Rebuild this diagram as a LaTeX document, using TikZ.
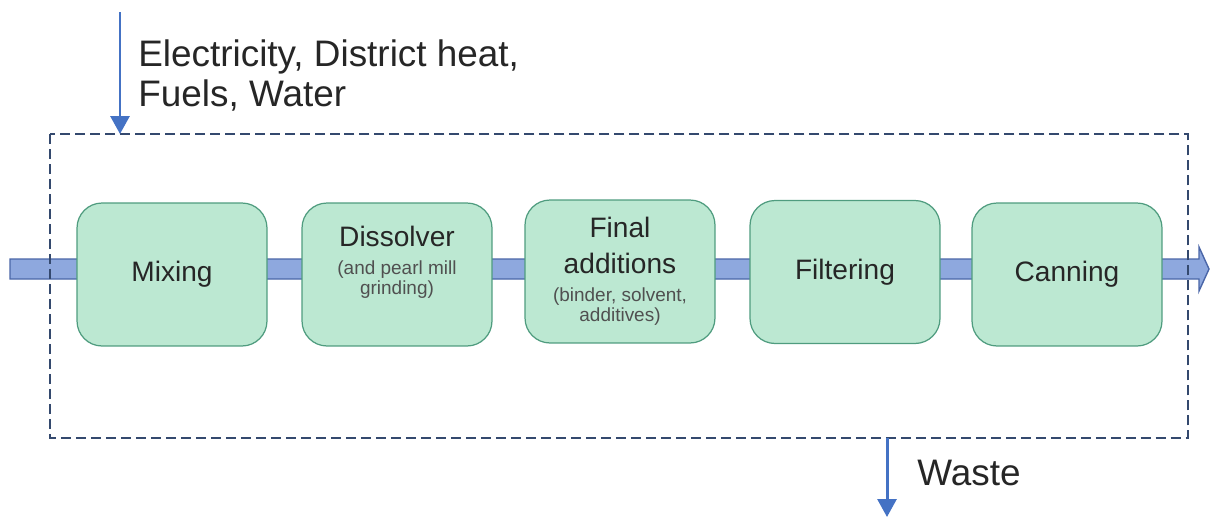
\documentclass[tikz,border=0pt]{standalone}
\usepackage{fontspec}
\setmainfont{Liberation Sans}
\usetikzlibrary{arrows.meta,calc}
\definecolor{stagefill}{HTML}{BCE8D2}
\definecolor{stageline}{HTML}{4F9C7F}
\definecolor{flowblue}{HTML}{4472C4}
\definecolor{bandfill}{HTML}{8EA8DE}
\definecolor{bandline}{HTML}{4A66A8}
\definecolor{borderline}{HTML}{34496E}
\definecolor{detailgray}{HTML}{505050}
\newcommand\detailtxt[1]{{\fontsize{10.8}{12}\selectfont\color{detailgray}#1}}

\begin{document}
\begin{tikzpicture}
[x=0.02cm, y=-0.02cm,
 stageText/.style={align=center, inner sep=0pt, font=\fontsize{16}{20}\selectfont, text=black!85},
 stage/.style={stageText, shape=rectangle, rounded corners=0.5cm, draw=stageline, fill=stagefill, line width=0.7pt, minimum width=3.8cm, minimum height=2.86cm},
 supplyArrow/.style={-{Triangle[width=0.38cm,length=0.36cm]}, draw=flowblue, line width=1.7pt},
 outerText/.style={inner sep=0pt, align=left, anchor=north west, font=\fontsize{21}{23.2}\selectfont, text=black!85},
 systemBorder/.style={draw=borderline, line width=0.75pt, dash pattern=on 0.2cm off 0.1cm}]

\useasboundingbox (0,0) rectangle (1210,518);

% main product flow
\coordinate (in) at (10,269);
\coordinate (out) at (1209,269);
\draw[fill=bandfill, draw=bandline, line width=0.8pt]
 ($(in)+(0,-10)$) -- ($(out)+(-10,-10)$) -- ($(out)+(-10,-22)$) -- (out)
 -- ($(out)+(-10,22)$) -- ($(out)+(-10,10)$) -- ($(in)+(0,10)$) -- cycle;

% system boundary
\coordinate (sysNW) at (50,134);
\coordinate (sysSE) at (1188,438);
\draw[systemBorder] (sysNW) rectangle (sysSE);

% process steps
\node[stage] (mix) at (172,274.5) {Mixing};
\node[stage] (dis) at (397,274.5) {};
\node[stageText] (disText) at ($(dis.center)+(0,-12)$)
 {Dissolver\\[-4.1pt]\detailtxt{(and pearl mill}\\[-8.7pt]\detailtxt{grinding)}};
\node[stage] (fin) at (620,271.5)
 {Final\\[0.3pt]additions\\[-4.2pt]\detailtxt{(binder, solvent,}\\[-8.4pt]\detailtxt{additives)}};
\node[stage] (fil) at (845,272) {Filtering};
\node[stage] (can) at (1067,274.5) {Canning};

% inputs and outputs
\coordinate (supplyStart) at (120,12);
\coordinate (supplyEnd) at (120,134);
\draw[supplyArrow] (supplyStart) -- (supplyEnd);
\node[outerText] (supply) at (138,39) {Electricity, District heat,\\Fuels, Water};

\coordinate (wasteStart) at (887,438);
\coordinate (wasteEnd) at (887,517);
\draw[supplyArrow] (wasteStart) -- (wasteEnd);
\node[outerText] (waste) at (917,460) {Waste};
\end{tikzpicture}
\end{document}
